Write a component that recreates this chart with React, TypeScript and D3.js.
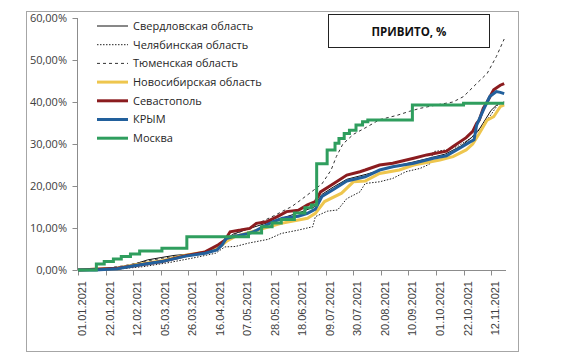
import React from "react";
import * as d3 from "d3";

// Day offset from 01.01.2021, value in %
const sverdlovsk: [number, number][] = [
  [0, 0], [20, 0.3], [30, 0.6], [41, 1.2], [53, 2.4], [64, 3.0], [74, 3.5], [90, 3.9], [100, 4.5], [110, 6.5],
  [118, 8.5], [130, 9.8], [145, 11.3], [160, 12.8], [170, 13.8], [180, 15.0], [186, 18.0], [195, 19.8], [205, 21.6],
  [220, 22.8], [235, 24.2], [250, 25.3], [265, 26.4], [280, 27.6], [292, 29.5], [300, 31.5], [305, 33.0],
  [309, 35.0], [315, 38.0], [320, 39.5], [325, 40.0],
];
const chelyabinsk: [number, number][] = [
  [0, 0], [30, 0.2], [50, 0.8], [70, 1.8], [90, 3.0], [105, 4.0], [112, 5.5], [120, 5.6], [130, 6.4], [145, 7.3],
  [155, 8.7], [168, 9.5], [179, 10.3], [181, 12.7], [190, 14.0], [198, 14.3], [205, 17.0], [215, 18.6], [219, 20.6],
  [230, 21.0], [240, 21.8], [250, 23.4], [261, 24.2], [268, 25.2], [271, 28.2], [281, 28.6], [290, 29.5],
  [300, 31.5], [304, 33.0], [309, 34.5], [315, 37.0], [320, 39.3], [325, 40.0],
];
const tyumen: [number, number][] = [
  [0, 0], [20, 0.4], [35, 1.0], [50, 2.0], [64, 2.8], [80, 3.5], [95, 4.2], [105, 5.5], [113, 7.0], [120, 8.5],
  [130, 10.0], [140, 11.5], [150, 13.0], [156, 14.0], [163, 15.1], [170, 16.7], [178, 18.6], [186, 20.5],
  [193, 23.8], [197, 27.0], [202, 30.0], [210, 32.3], [220, 34.0], [230, 35.8], [243, 36.8], [253, 37.8],
  [261, 38.5], [275, 39.4], [286, 40.0], [294, 41.3], [304, 44.4], [312, 46.8], [319, 50.8], [325, 55.0],
];
const novosibirsk: [number, number][] = [
  [0, 0], [30, 0.4], [43, 1.2], [64, 2.2], [82, 3.5], [97, 4.3], [108, 5.5], [114, 7.0], [120, 8.0], [137, 9.5],
  [155, 11.1], [175, 12.3], [181, 13.5], [188, 16.3], [201, 18.3], [210, 21.0], [219, 21.2], [230, 23.0],
  [245, 23.8], [256, 25.0], [276, 26.2], [286, 27.0], [296, 28.6], [301, 30.0], [306, 32.5], [312, 35.7],
  [317, 36.5], [322, 38.9], [325, 39.3],
];
const sevastopol: [number, number][] = [
  [0, 0], [13, 0.2], [30, 0.4], [43, 1.0], [64, 2.0], [82, 3.4], [97, 4.3], [107, 6.0], [112, 7.1], [116, 9.1],
  [124, 9.5], [131, 9.9], [136, 11.1], [144, 11.5], [152, 12.7], [159, 13.9], [168, 14.2], [175, 15.5],
  [181, 16.3], [185, 18.6], [193, 20.2], [205, 22.6], [215, 23.4], [219, 23.8], [230, 25.0], [240, 25.4],
  [256, 26.6], [266, 27.4], [281, 28.3], [286, 29.4], [296, 31.5], [301, 33.0], [304, 34.9], [306, 35.7],
  [309, 38.5], [312, 40.0], [317, 42.9], [322, 44.0], [325, 44.4],
];
const krym: [number, number][] = [
  [0, 0], [13, 0], [30, 0.3], [43, 1.0], [64, 2.0], [82, 3.3], [97, 4.0], [106, 4.8], [110, 6.0], [113, 7.5],
  [118, 7.9], [130, 8.7], [134, 9.1], [141, 10.3], [149, 11.5], [156, 12.3], [168, 12.8], [175, 13.5],
  [181, 14.5], [186, 17.5], [196, 19.4], [205, 21.2], [219, 22.2], [230, 23.8], [240, 24.6], [256, 25.4],
  [271, 26.6], [281, 27.2], [291, 29.0], [299, 30.5], [302, 31.0], [304, 34.5], [309, 38.0], [314, 41.3],
  [319, 42.5], [322, 42.3], [325, 42.0],
];
const moscow: [number, number][] = [
  [0, 0], [14, 1.4], [20, 2.0], [27, 2.6], [33, 3.2], [40, 3.8], [47, 4.5], [64, 5.2], [83, 7.9], [130, 8.8],
  [140, 10.3], [148, 11.2], [155, 12.0], [165, 13.6], [173, 14.8], [178, 15.5], [182, 25.3], [190, 28.6],
  [196, 30.2], [199, 31.3], [203, 32.5], [207, 33.3], [212, 34.5], [217, 35.3], [221, 35.7], [255, 39.3],
  [294, 39.7], [325, 39.7],
];

const seriesNames = [
  "Свердловская область",
  "Челябинская область",
  "Тюменская область",
  "Новосибирская область",
  "Севастополь",
  "КРЫМ",
  "Москва",
];
const seriesData = [sverdlovsk, chelyabinsk, tyumen, novosibirsk, sevastopol, krym, moscow];
const seriesColors = ["#111111", "#222222", "#333333", "#EEC64E", "#8B1C1F", "#22609C", "#2F9E5E"];
const seriesWidths = [1, 1, 1, 3, 3, 3, 3];
const seriesDash = [null, "1.5,1.5", "3,3", null, null, null, null];
const seriesStep = [false, false, false, false, false, false, true];

const xTickLabels = [
  "01.01.2021", "22.01.2021", "12.02.2021", "05.03.2021", "26.03.2021", "16.04.2021", "07.05.2021", "28.05.2021",
  "18.06.2021", "09.07.2021", "30.07.2021", "20.08.2021", "10.09.2021", "01.10.2021", "22.10.2021", "12.11.2021",
];
const yTicks = [0, 0.1, 0.2, 0.3, 0.4, 0.5, 0.6];
const title = "ПРИВИТО, %";

const START = new Date(Date.UTC(2021, 0, 1));
const dayToDate = (d: number) => new Date(START.getTime() + d * 86400000);
const parse = d3.utcParse("%d.%m.%Y");
const locale = d3.formatLocale({ decimal: ",", thousands: " ", grouping: [3], currency: ["", ""] });
const pct = locale.format(".2%");

export default function App() {
  const x = d3.scaleUtc().domain([START, dayToDate(326)]).range([78, 505.5]);
  const y = d3.scaleLinear().domain([0, 0.6]).range([270, 18]);
  const axisColor = "#8c8c8c";
  const textColor = "#404040";

  return (
    <svg width={579} height={354} style={{ position: "absolute", left: 0, top: 0, background: "#fff" }}>
      <rect x={26.5} y={11.5} width={492} height={340} fill="#fff" stroke="#a6a6a6" strokeWidth={1} />
      {/* y axis */}
      <line x1={77.5} x2={77.5} y1={y(0.6)} y2={y(0)} stroke={axisColor} />
      {yTicks.map((t) => (
        <g key={t}>
          <line x1={72.5} x2={77.5} y1={Math.round(y(t)) + 0.5} y2={Math.round(y(t)) + 0.5} stroke={axisColor} />
          <text x={67} y={y(t)} dy="0.35em" textAnchor="end" fontFamily="Open Sans" fontSize={11} fill={textColor}>
            {pct(t)}
          </text>
        </g>
      ))}
      {/* x axis */}
      <line x1={77.5} x2={506} y1={270.5} y2={270.5} stroke={axisColor} />
      {xTickLabels.map((lab) => {
        const xp = Math.round(x(parse(lab) as Date)) + 0.5;
        return (
          <g key={lab}>
            <line x1={xp} x2={xp} y1={270.5} y2={275.5} stroke={axisColor} />
            <text
              transform={`translate(${xp + 3.5},281) rotate(-90)`}
              dy="0.35em"
              textAnchor="end"
              fontFamily="Liberation Sans"
              fontSize={11}
              fill={textColor}
            >
              {lab}
            </text>
          </g>
        );
      })}
      {/* series */}
      {seriesData.map((data, i) => {
        const line = d3
          .line<[number, number]>()
          .x((d) => x(dayToDate(d[0])))
          .y((d) => y(d[1] / 100))
          .curve(seriesStep[i] ? d3.curveStepAfter : d3.curveLinear);
        return (
          <path
            key={seriesNames[i]}
            d={line(data) || ""}
            fill="none"
            stroke={seriesColors[i]}
            strokeWidth={seriesWidths[i]}
            strokeDasharray={seriesDash[i] || undefined}
            strokeLinejoin="miter"
          />
        );
      })}
      {/* legend */}
      {seriesNames.map((name, i) => {
        const cy = 26 + i * 18.7;
        return (
          <g key={name}>
            <line
              x1={97}
              x2={128}
              y1={cy}
              y2={cy}
              stroke={seriesColors[i]}
              strokeWidth={seriesWidths[i]}
              strokeDasharray={seriesDash[i] || undefined}
            />
            <text x={133} y={cy} dy="0.35em" fontFamily="Open Sans" fontSize={11} fill="#262626">
              {name}
            </text>
          </g>
        );
      })}
      {/* title box */}
      <rect x={328.5} y={14.5} width={161} height={33} fill="#fff" stroke="#222" strokeWidth={1} />
      <text x={409} y={32} dy="0.35em" textAnchor="middle" fontFamily="Open Sans" fontWeight="bold" fontSize={11.5} fill="#111">
        {title}
      </text>
    </svg>
  );
}
